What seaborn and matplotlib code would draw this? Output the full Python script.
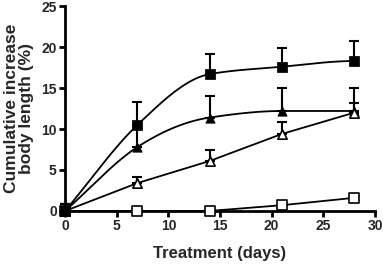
import numpy as np
import pandas as pd
import matplotlib
matplotlib.use("Agg")
import matplotlib.pyplot as plt
import seaborn as sns

days = [0, 7, 14, 21, 28]
filled_sq = [0.0, 10.5, 16.7, 17.6, 18.3]
filled_sq_err = [0.8, 2.85, 2.4, 2.3, 2.5]
filled_tri = [0.0, 7.8, 11.4, 12.2, 12.2]
filled_tri_err = [0.8, 2.6, 2.6, 2.8, 2.8]
open_tri = [0.0, 3.4, 6.1, 9.4, 12.0]
open_tri_err = [0.8, 0.8, 1.3, 1.5, 1.2]
open_sq = [0.0, 0.0, 0.0, 0.7, 1.6]
open_sq_err = [0.8, 0.0, 0.0, 0.0, 0.0]

xticks = [0, 5, 10, 15, 20, 25, 30]
yticks = [0, 5, 10, 15, 20, 25]


def smooth(x, y, xs):
    """Monotone cubic Hermite curve through the points."""
    x = np.asarray(x, float); y = np.asarray(y, float)
    h = np.diff(x); d = np.diff(y) / h
    m = np.zeros_like(y)
    for i in range(1, len(y) - 1):
        if d[i - 1] * d[i] > 0:
            w1 = 2 * h[i] + h[i - 1]; w2 = h[i] + 2 * h[i - 1]
            m[i] = (w1 + w2) / (w1 / d[i - 1] + w2 / d[i])
    m[0] = d[0]; m[1] = 0.5 * (d[0] + d[1]); m[-1] = 0.0
    out = np.empty_like(xs)
    for j, xv in enumerate(xs):
        i = min(np.searchsorted(x, xv, side="right") - 1, len(x) - 2)
        t = (xv - x[i]) / h[i]
        h00 = 2 * t**3 - 3 * t**2 + 1; h10 = t**3 - 2 * t**2 + t
        h01 = -2 * t**3 + 3 * t**2; h11 = t**3 - t**2
        out[j] = h00 * y[i] + h10 * h[i] * m[i] + h01 * y[i + 1] + h11 * h[i] * m[i + 1]
    return out


sns.set_theme(style="ticks")
plt.rcParams["font.family"] = ["Liberation Sans", "DejaVu Sans"]
plt.rcParams["font.weight"] = "bold"

fig = plt.figure(figsize=(3.83, 2.65), dpi=100)
ax = fig.add_axes([0.170, 0.204, 0.809, 0.773])

xs = np.linspace(0, 28, 300)
lw = 1.3
sns.lineplot(x=xs, y=smooth(days, filled_sq, xs), ax=ax, color="black", lw=lw)
sns.lineplot(x=xs, y=smooth(days, filled_tri, xs), ax=ax, color="black", lw=lw)
sns.lineplot(x=days, y=open_tri, ax=ax, color="black", lw=lw)
sns.lineplot(x=days, y=open_sq, ax=ax, color="black", lw=lw)

for vals, err in [(filled_sq, filled_sq_err), (filled_tri, filled_tri_err),
                  (open_tri, open_tri_err), (open_sq, open_sq_err)]:
    e = np.array(err)
    ax.errorbar(days, vals, yerr=[np.zeros_like(e), e], fmt="none", ecolor="black",
                elinewidth=1.5, capsize=3.8, capthick=1.5, clip_on=False, zorder=3)

ms = 45
sns.scatterplot(x=days, y=open_sq, ax=ax, marker="s", s=ms, color="white",
                edgecolor="black", linewidth=1.2, zorder=5, clip_on=False)
sns.scatterplot(x=days, y=filled_tri, ax=ax, marker="^", s=ms, color="black",
                edgecolor="black", zorder=6, clip_on=False)
sns.scatterplot(x=days, y=open_tri, ax=ax, marker="^", s=ms, color="white",
                edgecolor="black", linewidth=1.2, zorder=7, clip_on=False)
sns.scatterplot(x=days, y=filled_sq, ax=ax, marker="s", s=ms, color="black",
                edgecolor="black", zorder=8, clip_on=False)

ax.set_xlim(0, 30)
ax.set_ylim(0, 25)
ax.set_xticks(xticks)
ax.set_yticks(yticks)
sns.despine(ax=ax)
for s in ["left", "bottom"]:
    ax.spines[s].set_linewidth(2)
    ax.spines[s].set_color("black")
ax.tick_params(width=2, length=4, color="black", labelsize=10, pad=2)
for lab in ax.get_xticklabels() + ax.get_yticklabels():
    lab.set_fontweight("bold")
ax.set_xlabel("Treatment (days)", fontsize=12, fontweight="bold", labelpad=9)
ax.set_ylabel("Cumulative increase\nbody length (%)", fontsize=12.5, fontweight="bold",
              labelpad=5, linespacing=1.0)

fig.savefig("out.png", dpi=100)
